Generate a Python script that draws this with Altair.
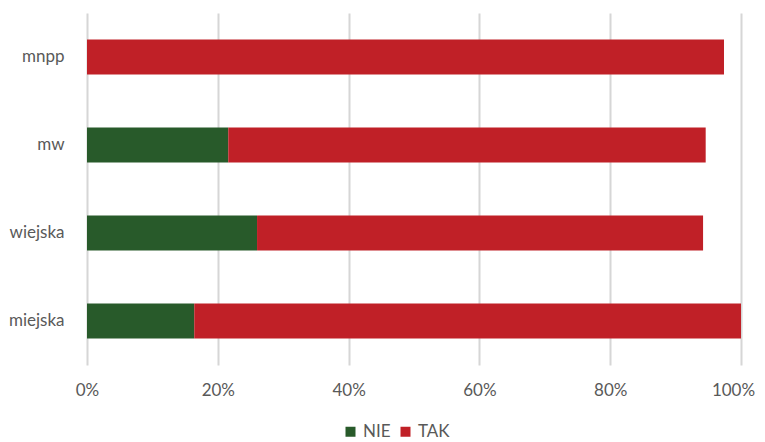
import altair as alt
import pandas as pd

categories = ["mnpp", "mw", "wiejska", "miejska"]
nie = [0.0, 21.6, 26.0, 16.4]
tak = [97.4, 73.0, 68.2, 83.6]
series = ["NIE", "TAK"]
colors = ["#285a2a", "#c02027"]

rows = []
for c, n, t in zip(categories, nie, tak):
    rows.append({"cat": c, "series": "NIE", "value": n / 100, "ord": 0})
    rows.append({"cat": c, "series": "TAK", "value": t / 100, "ord": 1})
df = pd.DataFrame(rows)

font = "Lato"
chart = alt.Chart(df).mark_bar().encode(
    y=alt.Y("cat:N", sort=categories, title=None,
            scale=alt.Scale(paddingInner=0.6, paddingOuter=0.3),
            axis=alt.Axis(domain=False, ticks=False, labelFontSize=17, labelColor="#595959",
                          labelFont=font, labelPadding=23, grid=False)),
    x=alt.X("value:Q", stack="zero", title=None,
            scale=alt.Scale(domain=[0, 1]),
            axis=alt.Axis(format=".0%", values=[0, 0.2, 0.4, 0.6, 0.8, 1.0], domain=False, ticks=False,
                          labelFontSize=17, labelColor="#595959", labelFont=font, labelPadding=17,
                          labelFlush=False,
                          labelOffset={"condition": {"test": "datum.value >= 1", "value": -8}, "value": 0},
                          gridColor="#d6d6d6", gridWidth=2)),
    color=alt.Color("series:N", scale=alt.Scale(domain=series, range=colors),
                    legend=alt.Legend(title=None, orient="none", legendX=255, legendY=410,
                                      direction="horizontal",
                                      symbolType="square", symbolSize=100, symbolStrokeWidth=0,
                                      labelFontSize=17, labelColor="#595959", labelFont=font,
                                      columnPadding=6, labelOffset=4)),
    order=alt.Order("ord:Q"),
).properties(width=654, height=352, padding={"left": 0, "top": 5, "right": 0, "bottom": 0}).configure_view(stroke=None)

chart.save("out.html", embed_options={"renderer": "svg", "actions": False})
